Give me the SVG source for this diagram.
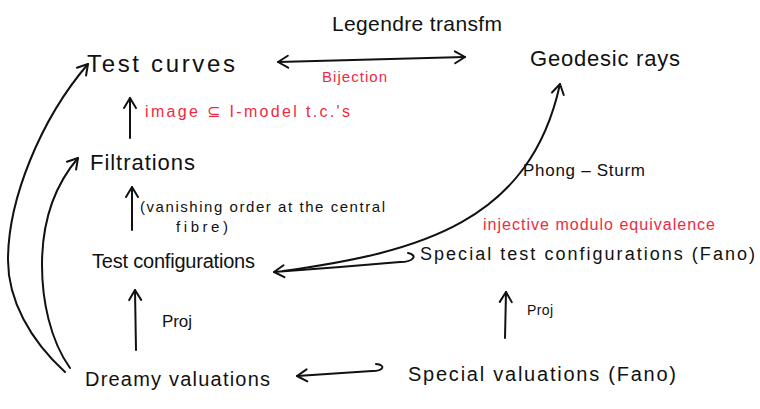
<svg xmlns="http://www.w3.org/2000/svg" width="760" height="409" viewBox="0 0 760 409">
<style>
text{font-family:"Liberation Sans","DejaVu Sans",sans-serif;fill:#111}
.red{fill:#ee2a43}
.c{fill:none;stroke:#111;stroke-width:2;stroke-linecap:round;stroke-linejoin:round}
</style>
<defs>
<marker id="ah" viewBox="-12 -8 14 16" refX="0" refY="0" markerWidth="14" markerHeight="16" markerUnits="userSpaceOnUse" orient="auto-start-reverse">
<path d="M-10,-6 L0,0 L-10,6" fill="none" stroke="#111" stroke-width="2" stroke-linecap="round" stroke-linejoin="round"/>
</marker>
</defs>
<rect width="760" height="409" fill="#fff"/>
<g id="connectors">
<path class="c" d="M278,62 L465,57" marker-start="url(#ah)" marker-end="url(#ah)"/>
<path class="c" d="M130,138 L130,98" marker-end="url(#ah)"/>
<path class="c" d="M132,230 L132,187" marker-end="url(#ah)"/>
<path class="c" d="M136,350 L135,290" marker-end="url(#ah)"/>
<path class="c" d="M505,338 L506,292" marker-end="url(#ah)"/>
<path class="c" d="M376,364 C386,365 384,371 372,371 L297,376" marker-end="url(#ah)"/>
<path class="c" d="M408,253 C418,255 414,262 400,262 L340,267 L274,272" marker-end="url(#ah)"/>
<path class="c" d="M283,271 C420,252 530,222 560,84" marker-end="url(#ah)"/>
<path class="c" d="M65,372 C30,340 8,300 8,260 C8,200 40,120 88,64" marker-end="url(#ah)"/>
<path class="c" d="M70,368 C50,340 42,300 42,265 C42,220 55,185 78,158" marker-end="url(#ah)"/>
</g>
<g id="legendre"><text x="332" y="31" font-size="21" textLength="170" lengthAdjust="spacing">Legendre transfm</text></g>
<g id="bijection"><text class="red" x="322" y="82" font-size="15" textLength="65" lengthAdjust="spacing">Bijection</text></g>
<g id="test-curves"><text x="87" y="72" font-size="24" textLength="148" lengthAdjust="spacing">Test curves</text></g>
<g id="geodesic-rays"><text x="530" y="66" font-size="22" textLength="150" lengthAdjust="spacing">Geodesic rays</text></g>
<g id="image-label"><text class="red" x="145" y="117" font-size="16" textLength="205" lengthAdjust="spacing">image ⊆ I-model t.c.'s</text></g>
<g id="filtrations"><text x="90" y="170" font-size="22" textLength="105" lengthAdjust="spacing">Filtrations</text></g>
<g id="vanishing-label">
<text x="140" y="212" font-size="15" textLength="245" lengthAdjust="spacing">(vanishing order at the central</text>
<text x="176" y="232" font-size="15" textLength="52" lengthAdjust="spacing">fibre)</text>
</g>
<g id="test-configurations"><text x="92" y="268" font-size="20" textLength="163" lengthAdjust="spacing">Test configurations</text></g>
<g id="phong-sturm"><text x="523" y="176" font-size="17" textLength="122" lengthAdjust="spacing">Phong – Sturm</text></g>
<g id="injective-label"><text class="red" x="483" y="230" font-size="16" textLength="232" lengthAdjust="spacing">injective modulo equivalence</text></g>
<g id="special-test-configurations"><text x="420" y="260" font-size="18" textLength="335" lengthAdjust="spacing">Special test configurations (Fano)</text></g>
<g id="proj-left"><text x="162" y="327" font-size="17" textLength="30" lengthAdjust="spacing">Proj</text></g>
<g id="proj-right"><text x="527" y="315" font-size="14" textLength="26" lengthAdjust="spacing">Proj</text></g>
<g id="dreamy-valuations"><text x="85" y="386" font-size="20" textLength="185" lengthAdjust="spacing">Dreamy valuations</text></g>
<g id="special-valuations"><text x="408" y="381" font-size="20" textLength="268" lengthAdjust="spacing">Special valuations (Fano)</text></g>
</svg>
